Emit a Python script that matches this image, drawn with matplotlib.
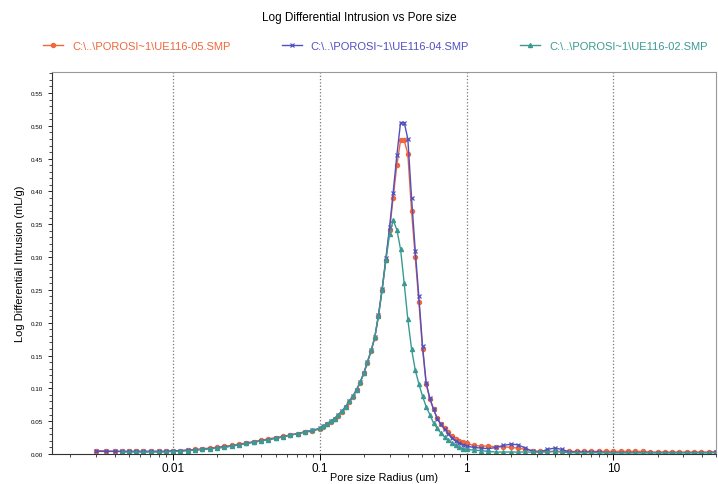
import numpy as np
import matplotlib
matplotlib.use("Agg")
import matplotlib.pyplot as plt
from matplotlib import font_manager
from matplotlib.ticker import MultipleLocator, LogLocator, FixedLocator, NullFormatter

# font: narrow sans if we have it
names = {f.name for f in font_manager.fontManager.ttflist}
fam = "Liberation Sans Narrow" if "Liberation Sans Narrow" in names else "Liberation Sans"
plt.rcParams["font.family"] = [fam, "DejaVu Sans"]

# pore radius (um), shared by the three runs
radius = [0.0030, 0.0035, 0.0040, 0.0045, 0.0050, 0.0056, 0.0063, 0.0071, 0.0080, 0.0090,
          0.0100, 0.0112, 0.0126, 0.0141, 0.0158, 0.0178, 0.0200, 0.0224, 0.0251, 0.0282,
          0.0316, 0.0355, 0.0398, 0.0447, 0.0501, 0.0562, 0.0631, 0.0708, 0.0794, 0.0891,
          0.100, 0.106, 0.112, 0.119, 0.126, 0.133, 0.141, 0.150, 0.158, 0.168,
          0.178, 0.188, 0.200, 0.211, 0.224, 0.237, 0.251, 0.266, 0.282, 0.299,
          0.316, 0.335, 0.355, 0.376, 0.398, 0.422, 0.447, 0.473, 0.501, 0.531,
          0.562, 0.596, 0.631, 0.668, 0.708, 0.750, 0.794, 0.841, 0.891, 0.944,
          1.00, 1.12, 1.26, 1.41, 1.58, 1.78, 2.00, 2.24, 2.51, 2.82,
          3.16, 3.55, 3.98, 4.47, 5.01, 5.62, 6.31, 7.08, 7.94, 8.91,
          10.0, 11.2, 12.6, 14.1, 15.8, 17.8, 20.0, 22.4, 25.1, 28.2,
          31.6, 35.5, 39.8, 44.7, 50.1]

# UE116-05
ue05 = [0.005, 0.005, 0.004, 0.004, 0.004, 0.004, 0.004, 0.004, 0.004, 0.004,
        0.005, 0.005, 0.006, 0.007, 0.008, 0.009, 0.010, 0.012, 0.013, 0.015,
        0.017, 0.019, 0.021, 0.023, 0.025, 0.027, 0.029, 0.031, 0.033, 0.035,
        0.038, 0.041, 0.045, 0.049, 0.053, 0.058, 0.064, 0.071, 0.079, 0.087,
        0.097, 0.108, 0.123, 0.139, 0.157, 0.177, 0.210, 0.250, 0.296, 0.342,
        0.390, 0.440, 0.478, 0.478, 0.457, 0.370, 0.300, 0.232, 0.160, 0.106,
        0.084, 0.068, 0.055, 0.046, 0.039, 0.033, 0.027, 0.023, 0.020, 0.018,
        0.016, 0.013, 0.012, 0.012, 0.011, 0.011, 0.010, 0.009, 0.007, 0.005,
        0.004, 0.004, 0.004, 0.004, 0.004, 0.004, 0.004, 0.004, 0.004, 0.004,
        0.004, 0.004, 0.004, 0.004, 0.004, 0.003, 0.003, 0.003, 0.003, 0.003,
        0.003, 0.003, 0.003, 0.003, 0.003]

# UE116-04
ue04 = [0.004, 0.004, 0.004, 0.004, 0.004, 0.004, 0.004, 0.004, 0.004, 0.004,
        0.005, 0.005, 0.006, 0.006, 0.007, 0.008, 0.009, 0.011, 0.012, 0.014,
        0.016, 0.018, 0.020, 0.022, 0.024, 0.026, 0.029, 0.031, 0.034, 0.036,
        0.039, 0.042, 0.046, 0.050, 0.054, 0.059, 0.065, 0.072, 0.080, 0.088,
        0.098, 0.109, 0.124, 0.140, 0.158, 0.178, 0.212, 0.252, 0.298, 0.346,
        0.398, 0.455, 0.505, 0.505, 0.480, 0.390, 0.310, 0.240, 0.165, 0.108,
        0.085, 0.068, 0.054, 0.045, 0.038, 0.031, 0.025, 0.020, 0.017, 0.014,
        0.012, 0.010, 0.009, 0.008, 0.010, 0.013, 0.015, 0.014, 0.009, 0.004,
        0.003, 0.007, 0.009, 0.007, 0.003, 0.003, 0.003, 0.003, 0.003, 0.002,
        0.002, 0.002, 0.002, 0.002, 0.002, 0.002, 0.002, 0.002, 0.002, 0.002,
        0.002, 0.002, 0.002, 0.002, 0.003]

# UE116-02 (starts a little later)
ue02 = [np.nan, np.nan, np.nan, 0.003, 0.003, 0.003, 0.003, 0.003, 0.003, 0.003,
        0.004, 0.004, 0.005, 0.006, 0.007, 0.008, 0.009, 0.010, 0.012, 0.014,
        0.016, 0.018, 0.020, 0.022, 0.024, 0.026, 0.029, 0.031, 0.034, 0.036,
        0.039, 0.042, 0.046, 0.050, 0.054, 0.059, 0.065, 0.072, 0.080, 0.088,
        0.098, 0.109, 0.124, 0.140, 0.158, 0.178, 0.210, 0.250, 0.295, 0.335,
        0.356, 0.342, 0.312, 0.260, 0.205, 0.160, 0.128, 0.107, 0.088, 0.072,
        0.060, 0.047, 0.039, 0.032, 0.026, 0.021, 0.017, 0.013, 0.010, 0.008,
        0.007, 0.006, 0.005, 0.004, 0.003, 0.003, 0.003, 0.003, 0.003, 0.003,
        0.003, 0.003, 0.004, 0.003, 0.002, 0.002, 0.002, 0.002, 0.002, 0.002,
        0.002, 0.002, 0.002, 0.002, 0.002, 0.002, 0.002, 0.002, 0.002, 0.002,
        0.002, 0.002, 0.002, 0.002, 0.002]

labels = [r"C:\..\POROSI~1\UE116-05.SMP", r"C:\..\POROSI~1\UE116-04.SMP", r"C:\..\POROSI~1\UE116-02.SMP"]
colors = ["#F0673C", "#5050C0", "#3A9A92"]
markers = ["o", "x", "^"]

fig = plt.figure(figsize=(7.18, 4.85), dpi=100)
ax = fig.add_axes([52/718, 1-455/485, (716-52)/718, (455-73)/485])

lines = []
for vals, lab, col, mk in zip([ue05, ue04, ue02], labels, colors, markers):
    ln, = ax.plot(radius, vals, color=col, lw=1.0, marker=mk, ms=3.0,
                  mew=0.9, label=lab)
    lines.append(ln)

ax.set_xscale("log")
ax.set_xlim(0.0015, 50)
ax.set_ylim(0, 0.582)

ax.xaxis.set_major_locator(FixedLocator([0.01, 0.1, 1, 10]))
ax.set_xticklabels(["0.01", "0.1", "1", "10"])
ax.xaxis.set_minor_locator(LogLocator(base=10, subs=np.arange(2, 10)))
ax.xaxis.set_minor_formatter(NullFormatter())
ax.yaxis.set_major_locator(MultipleLocator(0.05))
ax.yaxis.set_minor_locator(MultipleLocator(0.01))
ax.yaxis.set_major_formatter(plt.FuncFormatter(lambda v, p: "%.2f" % v))

ax.tick_params(axis="y", which="major", labelsize=4.5, length=3, width=0.6, direction="out")
ax.tick_params(axis="y", which="minor", length=2, width=0.5, direction="out")
ax.tick_params(axis="x", which="major", labelsize=8.5, length=4, width=0.7, direction="out", pad=2)
ax.tick_params(axis="x", which="minor", length=2.5, width=0.5, direction="out")

ax.grid(True, axis="x", which="major", color="#777777", ls=":", lw=0.9)
for s in ["top", "right"]:
    ax.spines[s].set_color("#999999")
for s in ["left", "bottom"]:
    ax.spines[s].set_color("#333333")

ax.set_xlabel("Pore size Radius (um)", fontsize=7.8)
ax.xaxis.set_label_coords(0.5, -18/382)
ax.set_ylabel("Log Differential Intrusion (mL/g)", fontsize=8)

fig.text(0.5, 1-18/485, "Log Differential Intrusion vs Pore size", ha="center", va="center", fontsize=8.5)

leg = fig.legend(handles=lines, loc="center", bbox_to_anchor=(0.523, 1-47/485), ncol=3,
                 frameon=False, fontsize=8, columnspacing=4.6, handlelength=1.8, handletextpad=0.8)
for t, c in zip(leg.get_texts(), colors):
    t.set_color(c)

fig.savefig("out.png", dpi=100)
